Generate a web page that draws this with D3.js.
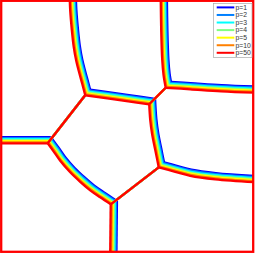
<!DOCTYPE html>
<html>
<head>
<meta charset="utf-8">
<script src="https://cdn.jsdelivr.net/npm/d3@7"></script>
<style>
  html, body { margin: 0; padding: 0; background: #fff; overflow: hidden; }
</style>
</head>
<body>
<div id="chart"></div>
<script>
// series
const pLabels = ["p=1", "p=2", "p=3", "p=4", "p=5", "p=10", "p=50"];
// distance of each p boundary from the p=50 one (image units)
const pShift = [6.2, 5.2, 4.1, 3.1, 2.1, 1.0, 0];

// p=50 junctions, image coordinates (x right, y down) on a 252 x 251 grid
const nodeA = [84, 94.5];
const nodeN1 = [164.5, 87];
const nodeN2 = [148, 103.5];
const nodeC = [46.5, 142.5];
const nodeD = [157.5, 166.5];
const nodeE = [109.5, 203.5];

// long boundaries (the p curves split apart along these)
const edgeAtop = [nodeA, [81, 83], [78, 72], [75, 60], [72.5, 46], [70.5, 28], [69, 10], [68.5, -3]];
const edgeAN2 = [nodeA, [106, 97.5], [127, 100.5], nodeN2];
const edgeN1top = [nodeN1, [162.3, 74], [161, 59], [160, 30], [159.5, -3]];
const edgeN1right = [nodeN1, [189, 88.5], [220, 90.5], [255, 92]];
const edgeN2D = [nodeN2, [149, 119], [151, 134], [154, 149], nodeD];
const edgeDright = [nodeD, [174, 171], [189, 175], [214, 178.5], [255, 181.5]];
const edgeCleft = [nodeC, [-3, 142.5]];
const edgeCE = [nodeC, [52, 150], [59, 160], [69, 171.5], [79, 181], [89, 189.5], [99, 196.5], nodeE];
const edgeEbottom = [nodeE, [109, 254]];

// short boundaries (all p coincide)
const shortEdges = [[nodeA, nodeC], [nodeN1, nodeN2], [nodeD, nodeE]];

const colors = ["#0000ff", "#0080ff", "#00ffff", "#80ff80", "#ffff00", "#ff8000", "#ff0000"];

const W = 255, H = 253;
const gridW = 252, gridH = 251;

// which side of each long edge the small-p curves move to (+1 right of travel, -1 left)
const longEdges = [
  { pts: edgeAtop, side: 1 },
  { pts: edgeAN2, side: -1 },
  { pts: edgeN1top, side: 1 },
  { pts: edgeN1right, side: -1 },
  { pts: edgeN2D, side: -1 },
  { pts: edgeDright, side: -1 },
  { pts: edgeCleft, side: 1 },
  { pts: edgeCE, side: -1 },
  { pts: edgeEbottom, side: -1 }
];
// edge ends meeting at the same junction: [edge index, 0 = start / 1 = end]
const joins = [
  [[0, 0], [1, 0]],
  [[2, 0], [3, 0]],
  [[1, 1], [4, 0]],
  [[4, 1], [5, 0]],
  [[6, 0], [7, 0]],
  [[7, 1], [8, 0]]
];

const svg = d3.select("#chart").append("svg")
  .attr("width", W)
  .attr("height", H);

const x = d3.scaleLinear().domain([0, gridW]).range([1.2, 253.2]);
const y = d3.scaleLinear().domain([0, gridH]).range([0.8, 251.8]);

svg.append("clipPath").attr("id", "clip")
  .append("rect")
  .attr("x", x(0)).attr("y", y(0))
  .attr("width", x(gridW) - x(0)).attr("height", y(gridH) - y(0));

function unit(a, b) {
  const dx = b[0] - a[0], dy = b[1] - a[1];
  const L = Math.hypot(dx, dy);
  return [dx / L, dy / L];
}

function offsetPts(pts, side, d) {
  const n = pts.length;
  return pts.map((p, i) => {
    let nx = 0, ny = 0;
    if (i > 0) { const u = unit(pts[i - 1], p); nx += -u[1]; ny += u[0]; }
    if (i < n - 1) { const u = unit(p, pts[i + 1]); nx += -u[1]; ny += u[0]; }
    const L = Math.hypot(nx, ny);
    return [p[0] + side * d * nx / L, p[1] + side * d * ny / L];
  });
}

// offset line at one end of an edge: point + direction
function endLine(edge, end, d) {
  const pts = edge.pts, n = pts.length;
  const a = end === 0 ? pts[0] : pts[n - 2];
  const b = end === 0 ? pts[1] : pts[n - 1];
  const u = unit(a, b);
  const p = end === 0 ? pts[0] : pts[n - 1];
  return { p: [p[0] - edge.side * d * u[1], p[1] + edge.side * d * u[0]], u: u };
}

function intersect(l1, l2) {
  const cr = l1.u[0] * l2.u[1] - l1.u[1] * l2.u[0];
  if (Math.abs(cr) < 1e-6) return null;
  const dx = l2.p[0] - l1.p[0], dy = l2.p[1] - l1.p[1];
  const t = (dx * l2.u[1] - dy * l2.u[0]) / cr;
  return [l1.p[0] + t * l1.u[0], l1.p[1] + t * l1.u[1]];
}

// boundary network for one p
function network(d) {
  const offs = longEdges.map(e => offsetPts(e.pts, e.side, d));
  joins.forEach(([j1, j2]) => {
    const I = intersect(endLine(longEdges[j1[0]], j1[1], d), endLine(longEdges[j2[0]], j2[1], d));
    if (!I) return;
    [j1, j2].forEach(([ei, end]) => {
      const arr = offs[ei];
      arr[end === 0 ? 0 : arr.length - 1] = I;
    });
  });
  return offs.concat(shortEdges);
}

const line = d3.line()
  .x(p => x(p[0]))
  .y(p => y(p[1]))
  .curve(d3.curveCatmullRom.alpha(0.5));

const series = pLabels.map((label, i) => ({ label: label, shift: pShift[i], color: colors[i] }));

const plot = svg.append("g").attr("clip-path", "url(#clip)");

plot.selectAll("g.series")
  .data(series)
  .join("g")
  .attr("class", "series")
  .attr("stroke", s => s.color)
  .selectAll("path")
  .data(s => network(s.shift))
  .join("path")
  .attr("d", line)
  .attr("fill", "none")
  .attr("stroke-width", 2.3)
  .attr("stroke-linejoin", "round")
  .attr("stroke-linecap", "butt");

// domain frame
svg.append("rect")
  .attr("x", x(0)).attr("y", y(0))
  .attr("width", x(gridW) - x(0)).attr("height", y(gridH) - y(0))
  .attr("fill", "none")
  .attr("stroke", "#ff0000")
  .attr("stroke-width", 2.3);

// legend
const legend = svg.append("g");
legend.append("rect")
  .attr("x", 213.5).attr("y", 3.5)
  .attr("width", 38.5).attr("height", 54)
  .attr("fill", "#fff")
  .attr("stroke", "#a8a8a8")
  .attr("stroke-width", 0.7);

const ly = d3.scalePoint().domain(pLabels).range([7.4, 52.8]);

const item = legend.selectAll("g.item")
  .data(series)
  .join("g")
  .attr("class", "item")
  .attr("transform", s => `translate(0,${ly(s.label)})`);

item.append("line")
  .attr("x1", 216.7).attr("x2", 234.3)
  .attr("stroke", s => s.color)
  .attr("stroke-width", 2);

item.append("text")
  .attr("x", 235.4)
  .attr("dy", "0.35em")
  .attr("font-family", "'Liberation Sans', Arial, sans-serif")
  .attr("font-size", 6.8)
  .attr("fill", "#333")
  .text(s => s.label);
</script>
</body>
</html>
